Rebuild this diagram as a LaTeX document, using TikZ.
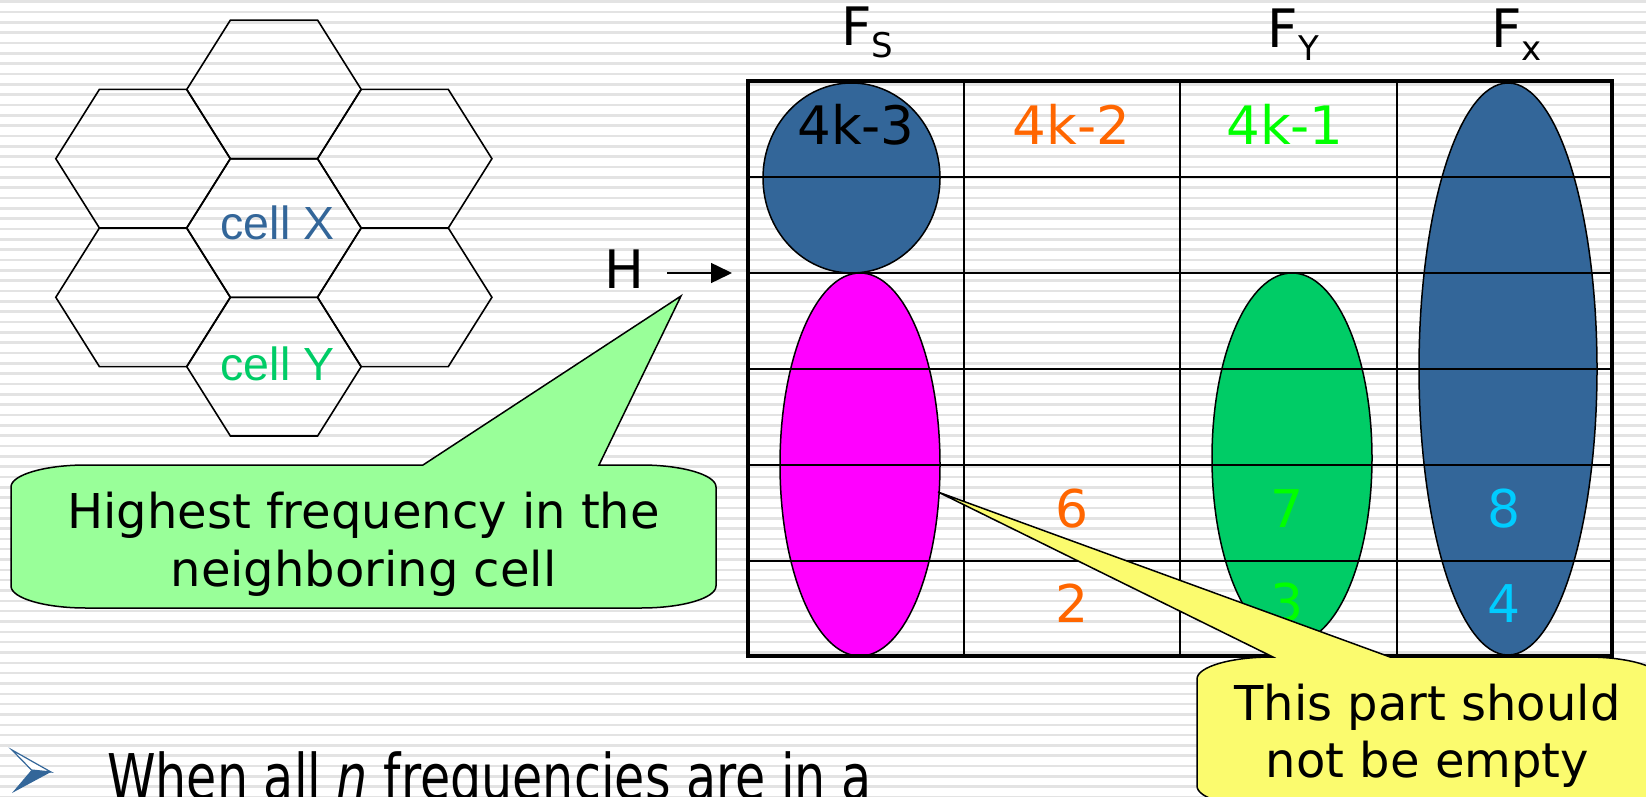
\documentclass[tikz,border=0pt]{standalone}
\usepackage{fontspec}
\setmainfont{DejaVu Sans}
\newfontfamily\arialf{Liberation Sans}
\newfontfamily\condf[FakeStretch=0.78]{DejaVu Sans}
\usetikzlibrary{arrows.meta}
\definecolor{steel}{HTML}{336699}
\definecolor{cellgreen}{HTML}{00CC66}
\definecolor{pinkm}{HTML}{FF00FF}
\definecolor{orangec}{HTML}{FF6600}
\definecolor{limec}{HTML}{00FF00}
\definecolor{cyanc}{HTML}{00CCFF}
\definecolor{calloutgreen}{HTML}{99FF99}
\definecolor{calloutyellow}{HTML}{FBFB6E}
\definecolor{stripegray}{HTML}{E3E3E3}
\tikzset{
  hexline/.style={draw=black, line width=1.6pt, line join=miter},
  ovalshape/.style={draw=black, line width=1.5pt},
  gridthin/.style={draw=black, line width=2.2pt},
  gridframe/.style={draw=black, line width=4.5pt, line join=miter},
  lbl/.style={inner sep=0pt, anchor=base},
  biglbl/.style={lbl, font=\fontsize{53}{60}\selectfont},
  digit/.style={lbl, font=\fontsize{52}{60}\selectfont},
  calltext/.style={lbl, font=\fontsize{48}{56}\selectfont},
  cellname/.style={lbl, font=\arialf\fontsize{46.5}{52}\selectfont},
  calloutline/.style={draw=black, line width=1.5pt, line join=miter},
}
\begin{document}
\begin{tikzpicture}[x=1pt,y=-1pt]
\useasboundingbox (0,0) rectangle (1646,797);
\begin{scope}
\clip (0,0) rectangle (1646,797);
% background
\fill[white] (0,0) rectangle (1646,797);
\foreach \i in {0,...,77} {
  \fill[stripegray] (0,{0.4+10.33*\i}) rectangle (1646,{3.0+10.33*\i});
}
% hexagons
\foreach \cx/\cy in {274/89.4, 274/228, 274/366.7, 143/158.7, 143/297.3, 404.7/158.7, 404.7/297.3}
  \draw[hexline] ({\cx-87.2},\cy) -- ({\cx-43.6},{\cy-69.3}) -- ({\cx+43.6},{\cy-69.3}) -- ({\cx+87.2},\cy) -- ({\cx+43.6},{\cy+69.3}) -- ({\cx-43.6},{\cy+69.3}) -- cycle;
\node[cellname, text=steel] (cellx) at (277.5,239) {cell X};
\node[cellname, text=cellgreen] (celly) at (277.5,380) {cell Y};
% ellipses
\filldraw[ovalshape, fill=steel] (851.5,178) ellipse [x radius=88.5pt, y radius=95pt];
\filldraw[ovalshape, fill=pinkm] (860,464.5) ellipse [x radius=80pt, y radius=191.5pt];
\filldraw[ovalshape, fill=cellgreen] (1292,458) ellipse [x radius=80pt, y radius=185pt];
\filldraw[ovalshape, fill=steel] (1508,369) ellipse [x radius=89pt, y radius=286pt];
% grid
\foreach \yy in {177,273,369,465,561} \draw[gridthin] (748,\yy) -- (1612,\yy);
\foreach \xx in {964,1180,1397} \draw[gridthin] (\xx,81) -- (\xx,656);
\draw[gridframe] (748,81) rectangle (1612,656);
% grid texts
\node[biglbl] (k3) at (856,145) {4k-3};
\node[biglbl, text=orangec] (k2) at (1071.5,145) {4k-2};
\node[biglbl, text=limec] (k1) at (1285,144) {4k-1};
\node[digit, text=orangec] (d6) at (1072,527) {6};
\node[digit, text=orangec] (d2) at (1072,622) {2};
\node[digit, text=limec] (d7) at (1287,527) {7};
\node[digit, text=limec] (d3) at (1287,621) {3};
\node[digit, text=cyanc] (d8) at (1504,527) {8};
\node[digit, text=cyanc] (d4) at (1504,622) {4};
% column headers
\node[lbl] (fs) at (867.5,46) {\fontsize{53}{60}\selectfont F\fontsize{34}{40}\selectfont\raisebox{-12pt}{S}};
\node[lbl] (fy) at (1293.5,48) {\fontsize{53}{60}\selectfont F\fontsize{34}{40}\selectfont\raisebox{-13pt}{Y}};
\node[lbl] (fx) at (1516.5,48) {\fontsize{53}{60}\selectfont F\fontsize{34}{40}\selectfont\raisebox{-13pt}{x}};
% H marker
\node[lbl, font=\fontsize{53}{60}\selectfont] (hlabel) at (624,288) {H};
\coordinate (hstart) at (667,273);
\coordinate (hend) at (732,273);
\draw[line width=1.5pt, -{Triangle[length=21pt,width=20pt]}] (hstart) -- (hend);
% green callout
\filldraw[calloutline, fill=calloutgreen] (423,465) -- (681,296) -- (599,465) -- (641,465)
  .. controls (682.4,465) and (716,474.85) .. (716,487) -- (716,586)
  .. controls (716,598.15) and (682.4,608) .. (641,608) -- (86,608)
  .. controls (44.6,608) and (11,598.15) .. (11,586) -- (11,487)
  .. controls (11,474.85) and (44.6,465) .. (86,465) -- cycle;
\node[calltext] (g1) at (363.5,528) {Highest frequency in the};
\node[calltext] (g2) at (363.5,586) {neighboring cell};
% yellow callout
\filldraw[calloutline, fill=calloutyellow] (1273,657) -- (938,492) -- (1390,657) -- (1587,657)
  .. controls (1628.4,657) and (1662,666.85) .. (1662,679) -- (1662,786)
  .. controls (1662,798.15) and (1628.4,808) .. (1587,808) -- (1272,808)
  .. controls (1230.6,808) and (1197,798.15) .. (1197,786) -- (1197,679)
  .. controls (1197,666.85) and (1230.6,657) .. (1272,657) -- cycle;
\node[calltext] (y1) at (1427.5,720) {This part should};
\node[calltext] (y2) at (1427.5,777) {not be empty};
% bullet line
\fill[steel] (31.5,770) -- (51,772) -- (12,793) -- cycle;
\draw[steel, line width=1.2pt, fill=white, line join=miter] (12,750) -- (51,772) -- (31.5,770) -- cycle;
\node[lbl, anchor=base west, font=\condf\fontsize{63}{70}\selectfont] (bodytext) at (107,799) {When all \textit{n} frequencies are in a};
\end{scope}
\end{tikzpicture}
\end{document}
